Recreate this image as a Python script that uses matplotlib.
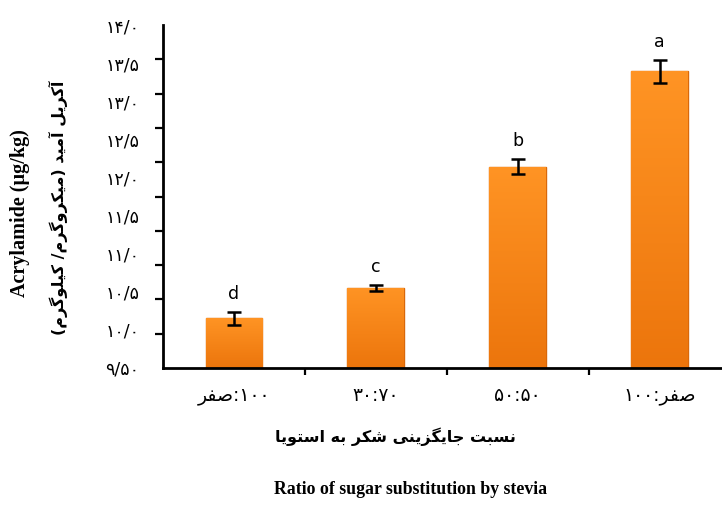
import numpy as np
import matplotlib
matplotlib.use("Agg")
import matplotlib.pyplot as plt
from matplotlib.colors import LinearSegmentedColormap

# acrylamide content per sugar:stevia ratio
ratios = ["۱۰۰:صفر", "۷۰:۳۰", "۵۰:۵۰", "صفر:۱۰۰"]
acrylamide = [10.15, 10.55, 12.14, 13.39]
errors = [0.08, 0.04, 0.10, 0.15]
groups = ["d", "c", "b", "a"]
ytick_values = [9.5, 10.0, 10.5, 11.0, 11.5, 12.0, 12.5, 13.0, 13.5, 14.0]
ytick_labels = ["۹/۵۰", "۱۰/۰", "۱۰/۵", "۱۱/۰", "۱۱/۵", "۱۲/۰", "۱۲/۵", "۱۳/۰", "۱۳/۵", "۱۴/۰"]

ylabel_fa = "آکریل آمید (میکروگرم/ کیلوگرم)"
xlabel_fa = "نسبت جایگزینی شکر به استویا"
ylabel_en = "Acrylamide (µg/kg)"
xlabel_en = "Ratio of sugar substitution by stevia"

# matplotlib has no Arabic shaping, so pick presentation forms by hand
# (isolated, final, initial, medial); right-joining letters only have two
FORMS = {
    "ا": ("\uFE8D", "\uFE8E"),
    "آ": ("\uFE81", "\uFE82"),
    "د": ("\uFEA9", "\uFEAA"),
    "ر": ("\uFEAD", "\uFEAE"),
    "ز": ("\uFEAF", "\uFEB0"),
    "و": ("\uFEED", "\uFEEE"),
    "ب": ("\uFE8F", "\uFE90", "\uFE91", "\uFE92"),
    "ت": ("\uFE95", "\uFE96", "\uFE97", "\uFE98"),
    "ج": ("\uFE9D", "\uFE9E", "\uFE9F", "\uFEA0"),
    "س": ("\uFEB1", "\uFEB2", "\uFEB3", "\uFEB4"),
    "ش": ("\uFEB5", "\uFEB6", "\uFEB7", "\uFEB8"),
    "ص": ("\uFEB9", "\uFEBA", "\uFEBB", "\uFEBC"),
    "ف": ("\uFED1", "\uFED2", "\uFED3", "\uFED4"),
    "ل": ("\uFEDD", "\uFEDE", "\uFEDF", "\uFEE0"),
    "م": ("\uFEE1", "\uFEE2", "\uFEE3", "\uFEE4"),
    "ن": ("\uFEE5", "\uFEE6", "\uFEE7", "\uFEE8"),
    "ه": ("\uFEE9", "\uFEEA", "\uFEEB", "\uFEEC"),
    "ک": ("\uFB8E", "\uFB8F", "\uFB90", "\uFB91"),
    "گ": ("\uFB92", "\uFB93", "\uFB94", "\uFB95"),
    "ی": ("\uFBFC", "\uFBFD", "\uFBFE", "\uFBFF"),
}


def rtl(text):
    out = []
    for i, ch in enumerate(text):
        f = FORMS.get(ch)
        if f is None:
            out.append(ch)
            continue
        prev = text[i - 1] if i > 0 else ""
        nxt = text[i + 1] if i + 1 < len(text) else ""
        join_prev = prev in FORMS and len(FORMS[prev]) == 4
        join_next = len(f) == 4 and nxt in FORMS
        if join_prev and join_next:
            out.append(f[3])
        elif join_next:
            out.append(f[2])
        elif join_prev:
            out.append(f[1])
        else:
            out.append(f[0])
    s = "".join(out)[::-1]
    return s.translate(str.maketrans("()", ")("))


def ratio_label(label):
    parts = label.split(":")[::-1]
    return ":".join(p if p[0] in "۰۱۲۳۴۵۶۷۸۹" else rtl(p) for p in parts)


plt.rcParams["font.family"] = ["DejaVu Sans"]

fig = plt.figure(figsize=(7.22, 5.07), dpi=100)
ax = fig.add_axes([163 / 722, 139 / 507, 559 / 722, 343 / 507])

x = np.arange(len(acrylamide))
bars = ax.bar(x, acrylamide, width=0.4, color="#F7860F", edgecolor="#D9680A",
              linewidth=1, zorder=2)

# soft vertical orange gradient inside each bar
cmap = LinearSegmentedColormap.from_list("bar", ["#EC750C", "#FF9424"])
grad = np.linspace(0, 1, 256).reshape(-1, 1)
for b in bars:
    x0, w = b.get_x(), b.get_width()
    im = ax.imshow(grad, extent=(x0, x0 + w, 9.5, b.get_height()), origin="lower",
                   cmap=cmap, aspect="auto", zorder=2.5)
    im.set_clip_path(b)

ax.errorbar(x, acrylamide, yerr=errors, fmt="none", ecolor="black",
            elinewidth=1.8, capsize=5, capthick=1.8, zorder=3)

for xi, v, e, g in zip(x, acrylamide, errors, groups):
    ax.annotate(g, (xi, v + e), xytext=(0, 13), textcoords="offset points",
                ha="center", va="center", fontsize=12.5)

ax.set_xlim(-0.5, 3.44)
ax.set_ylim(9.5, 14.0)

ax.set_yticks(ytick_values)
ax.set_yticklabels(ytick_labels, fontsize=12.5)
ax.set_yticks(np.linspace(9.5, 14.0, 11), minor=True)
ax.tick_params(axis="y", which="major", length=0, pad=17)
ax.tick_params(axis="y", which="minor", length=6, width=1.6, direction="out")

ax.set_xticks(x)
ax.set_xticklabels([ratio_label(r) for r in ratios], fontsize=13.5)
ax.set_xticks([0.5, 1.5, 2.5], minor=True)
ax.tick_params(axis="x", which="major", length=0, pad=13)
ax.tick_params(axis="x", which="minor", length=5, width=1.6, direction="out")

for side in ["top", "right"]:
    ax.spines[side].set_visible(False)
for side in ["left", "bottom"]:
    ax.spines[side].set_linewidth(2)

fig.text(58 / 722, 1 - 208 / 507, rtl(ylabel_fa), rotation=90, ha="center",
         va="center", fontsize=11.5, fontweight="bold")
fig.text(20 / 722, 1 - 213 / 507, ylabel_en, rotation=90, ha="center",
         va="center", fontsize=14.5, fontweight="bold", family="Liberation Serif")
fig.text(395 / 722, 1 - 437 / 507, rtl(xlabel_fa), ha="center", va="center",
         fontsize=11.5, fontweight="bold")
fig.text(411 / 722, 1 - 490 / 507, xlabel_en, ha="center", va="center",
         fontsize=12.8, fontweight="bold", family="Liberation Serif")

fig.savefig("out.png", dpi=100)
